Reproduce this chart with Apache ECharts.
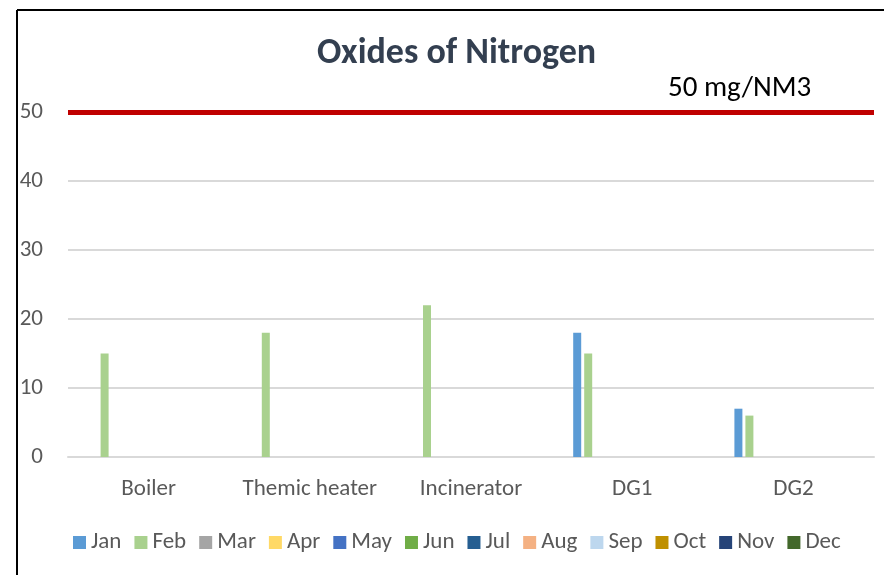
<!DOCTYPE html>
<html>
<head>
<meta charset="utf-8">
<script src="https://cdn.jsdelivr.net/npm/echarts@6/dist/echarts.min.js"></script>
<style>
html,body{margin:0;padding:0;background:#fff;}
#c{width:884px;height:575px;}
</style>
</head>
<body>
<div id="c"></div>
<script>
const categories = ['Boiler', 'Themic heater', 'Incinerator', 'DG1', 'DG2'];
const months = ['Jan','Feb','Mar','Apr','May','Jun','Jul','Aug','Sep','Oct','Nov','Dec'];
const monthColors = ['#5B9BD5','#A9D18E','#A5A5A5','#FFD966','#4472C4','#70AD47','#255E91','#F4B183','#BDD7EE','#BF9000','#264478','#43682B'];
const janValues = [null, null, null, 18, 7];
const febValues = [15, 18, 22, 15, 6];
const emptyValues = [null, null, null, null, null];
const limitValue = 50;
const limitLabel = '50 mg/NM3';
const yTicks = [0, 10, 20, 30, 40, 50];

const monthData = {Jan: janValues, Feb: febValues};
const font = 'Calibri, Carlito, Lato, "Liberation Sans", sans-serif';

const series = [{
  name: '_limit', type: 'bar', data: emptyValues, barWidth: 8, barGap: '37.5%', silent: true,
  markLine: {
    symbol: 'none', silent: true,
    lineStyle: {color: '#C00000', width: 5, type: 'solid'},
    label: {show: false},
    data: [{yAxis: limitValue}]
  }
}];
months.forEach((m, i) => {
  series.push({
    name: m, type: 'bar', barWidth: 8, barGap: '37.5%',
    itemStyle: {color: monthColors[i]},
    data: monthData[m] || emptyValues
  });
});

const chart = echarts.init(document.getElementById('c'));
chart.setOption({
  animation: false,
  backgroundColor: '#fff',
  title: {
    text: 'Oxides of Nitrogen', left: 312, top: 31,
    textStyle: {fontFamily: font, fontSize: 36, fontWeight: 'bold', color: '#333F50'}
  },
  graphic: [
    {type: 'line', shape: {x1: 17, y1: 10, x2: 884, y2: 10}, style: {stroke: '#000', lineWidth: 2}},
    {type: 'line', shape: {x1: 17, y1: 10, x2: 17, y2: 575}, style: {stroke: '#000', lineWidth: 2}},
    {type: 'text', left: 668, top: 74, style: {text: limitLabel, font: '29px ' + font, fill: '#000'}}
  ],
  legend: {
    data: months, bottom: 16, left: 68, itemWidth: 13, itemHeight: 13, itemGap: 13,
    icon: 'rect',
    textStyle: {fontFamily: font, fontSize: 23, color: '#595959'}
  },
  grid: {left: 68, right: 10, top: 112, bottom: 118},
  xAxis: {
    type: 'category', data: categories,
    axisLine: {show: true, lineStyle: {color: '#D9D9D9', width: 2}},
    axisTick: {show: false},
    axisLabel: {interval: 0, fontFamily: font, fontSize: 23, color: '#595959', margin: 21}
  },
  yAxis: {
    type: 'value', min: 0, max: 50, interval: 10,
    axisLine: {show: false}, axisTick: {show: false},
    splitLine: {lineStyle: {color: '#D9D9D9', width: 2}},
    axisLabel: {fontFamily: font, fontSize: 23, color: '#595959', margin: 25,
      formatter: v => yTicks.includes(v) ? String(v) : ''}
  },
  series: series
});
</script>
</body>
</html>
